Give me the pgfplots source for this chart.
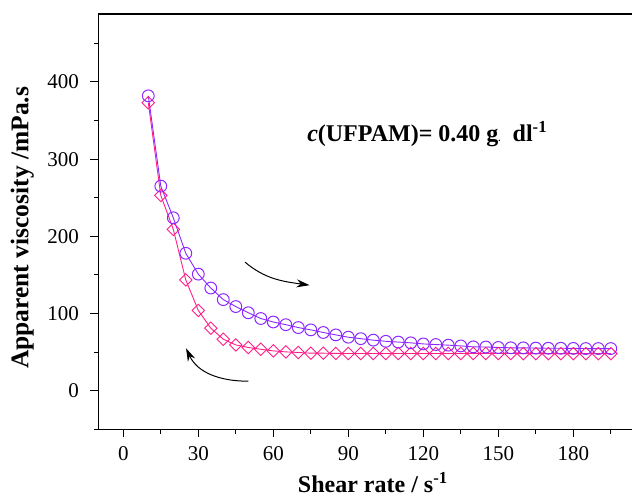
\documentclass[border=0pt]{standalone}
\usepackage{fontspec}
\setmainfont{Liberation Serif}
\usepackage{pgfplots}
\pgfplotsset{compat=1.18}
\usetikzlibrary{arrows.meta}
\definecolor{vio}{RGB}{140,40,255}
\definecolor{pnk}{RGB}{255,30,135}
\pgfplotstableread{
x y
10 382
15 265
20 224
25 178
30 151
35 133
40 118
45 109
50 101
55 93.5
60 89
65 85.5
70 81.8
75 78.8
80 75.4
85 72.3
90 69.3
95 67.4
100 65.5
105 64
110 63
115 62
120 60.6
125 59.8
130 59
135 58
140 56.8
145 56.6
150 56
155 55.6
160 55.5
165 55.2
170 55
175 55
180 54.8
185 54.6
190 54.6
195 54.6
}\upcurve
\pgfplotstableread{
x y
10 373
15 253
20 209
25 143.5
30 104
35 81
40 66.7
45 59.3
50 56
55 53.7
60 51.6
65 50.3
70 49.5
75 48.6
80 48.6
85 48.3
90 48.2
95 48.2
100 48.2
105 48.2
110 48.2
115 48.2
120 48.2
125 48.2
130 48.2
135 48.2
140 48.2
145 48.2
150 48.2
155 48.2
160 48
165 48
170 48
175 48
180 48
185 48
190 48
195 48
}\downcurve
\begin{document}
\begin{tikzpicture}
\begin{axis}[
  name=ax,
  scale only axis,
  width=536.25pt, height=415.3pt,
  xmin=-10, xmax=204.5, ymin=-50, ymax=488,
  axis line style={line width=1.1pt},
  tick pos=left,
  tick align=outside,
  major tick length=8pt,
  minor tick length=4.5pt,
  every tick/.style={black, line width=1pt},
  xtick={0,30,...,180},
  minor xtick={15,45,...,195},
  ytick={0,100,...,400},
  minor ytick={-50,50,150,250,350,450},
  /pgf/number format/assume math mode=true,
  tick label style={font=\fontsize{21}{21}\selectfont},
  x tick label style={yshift=-6pt},
  y tick label style={xshift=-8pt},
  xlabel={Shear rate / s\textsuperscript{-1}},
  ylabel={Apparent viscosity /mPa.s},
  x label style={font=\bfseries\fontsize{24}{24}\selectfont, at={(axis description cs:0.512,0)}, anchor=north, yshift=-40pt},
  y label style={font=\bfseries\fontsize{25.5}{25.5}\selectfont, at={(axis description cs:0,0.485)}, anchor=south, yshift=61pt},
  clip=false,
]
\addplot[pnk, line width=0.9pt, mark=square, mark size=4.4pt,
  mark options={rotate=45, line width=0.9pt, fill=none}] table[x=x,y=y] {\downcurve};
\addplot[vio, line width=0.9pt, mark=o, mark size=5.9pt,
  mark options={line width=1pt, fill=white}] table[x=x,y=y] {\upcurve};
\draw[line width=1pt, -{Stealth[length=13pt,width=8pt]}] (axis cs:48.7,166.5) to[out=-40,in=172] (axis cs:74.5,136.7);
\draw[line width=1pt, -{Stealth[length=13pt,width=8pt]}] (axis cs:50,12.3) to[out=180,in=-65] (axis cs:25.1,55);
\node[anchor=base west, font=\bfseries\fontsize{24}{24}\selectfont, inner sep=0pt] at (axis cs:73.5,323)
  {\textit{c}(UFPAM)= 0.40 g{\fontsize{9}{9}\selectfont .}\, dl\textsuperscript{-1}};
\end{axis}
\pgfresetboundingbox
\path[use as bounding box] ([shift={(-98.3pt,-71.7pt)}]ax.south west) rectangle ++(632pt,501pt);
\end{tikzpicture}
\end{document}
